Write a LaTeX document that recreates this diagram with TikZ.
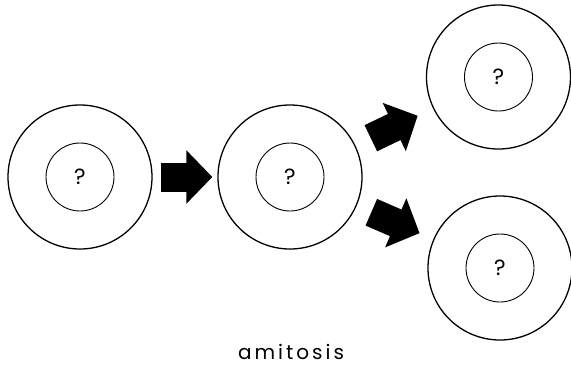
\documentclass[tikz,border=0pt]{standalone}
\usepackage{fontspec}
\setmainfont{Poppins}
\newfontfamily\captionfont[LetterSpace=15]{Poppins}
\usetikzlibrary{arrows.meta}

\tikzset{
	cell/.style={circle,draw,line width=1.3pt,minimum size=144pt,inner sep=0pt},
	nucleus/.style={circle,draw,line width=0.9pt,minimum size=68pt,inner sep=0pt,
		font=\fontsize{22}{22}\selectfont},
	push/.style={line width=29pt,-{Triangle[length=26pt,width=52pt]}}
}

\begin{document}
\begin{tikzpicture}[x=1pt,y=1pt]
		\useasboundingbox (0,0) rectangle (571,-368);
		
		%--- Parent cell ---
		\node[cell] (parent) at (80,-177) {};
		\node[nucleus] (parentnuc) at (parent) {?};
		
		%--- Cell before splitting ---
		\node[cell] (middle) at (290,-177) {};
		\node[nucleus] (middlenuc) at (middle) {?};
		
		%--- Two daughter cells ---
		\node[cell] (upper) at (498.5,-77) {};
		\node[nucleus] (uppernuc) at (upper) {?};
		\node[cell] (lower) at (500,-268) {};
		\node[nucleus] (lowernuc) at (lower) {?};
		
		% Block arrows
		\draw[push,shorten <=8pt,shorten >=5pt] (parent) -- (middle);
		\draw[push,shorten <=17pt,shorten >=17pt] (middle) -- (upper);
		\draw[push,shorten <=16pt,shorten >=15pt] (middle) -- (lower);
		
		% Caption
		\node[font=\captionfont\fontsize{20}{20}\selectfont] (caption) at (291,-352) {amitosis};
		
	\end{tikzpicture}
\end{document}
